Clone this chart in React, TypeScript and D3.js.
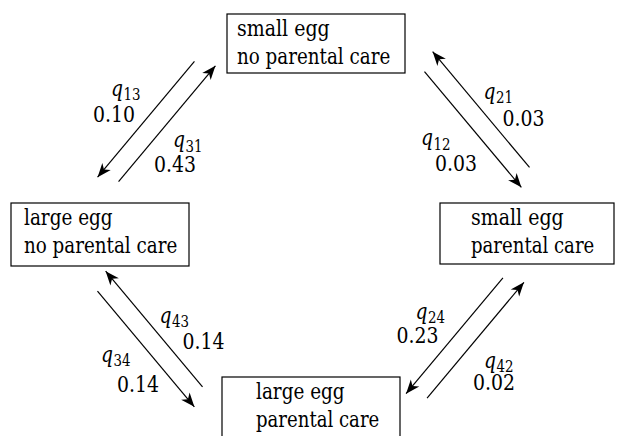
import * as d3 from "d3";
import { useEffect, useRef } from "react";

// states (1..4) and the transition rates between them
const stateNames = [
  ["small egg", "no parental care"],
  ["small egg", "parental care"],
  ["large egg", "no parental care"],
  ["large egg", "parental care"],
];
const fromState = [1, 3, 1, 2, 3, 4, 2, 4];
const toState = [3, 1, 2, 1, 4, 3, 4, 2];
const rates = [0.1, 0.43, 0.03, 0.03, 0.14, 0.14, 0.23, 0.02];

// layout of the boxes (x, y, width, height, text inset)
const boxLayout = [
  { x: 227, y: 14, w: 178, h: 59, tx: 10 },
  { x: 440, y: 203, w: 174, h: 61, tx: 31 },
  { x: 11, y: 203, w: 178, h: 63, tx: 13 },
  { x: 222, y: 377, w: 178, h: 70, tx: 34 },
];

// centre of every pair of arrows, keyed by the lower state first
const pairCentre: Record<string, [number, number]> = {
  "1-3": [156.5, 121.5],
  "1-2": [477, 119.5],
  "3-4": [150, 339],
  "2-4": [465, 338],
};

// label offsets from the arrow midpoint: [qx, qy, valueX, valueY]
const labelOffset = [
  [-35, -23.5, -53, 2.5],
  [6, 23.5, -13, 48.5],
  [-52, 16, -38, 42],
  [2.5, -11, 21.5, 16],
  [-45, 13, -29, 43],
  [5.5, -6.5, 28.5, 19.5],
  [-39, -17, -58, 7],
  [8.5, 27.5, -2.5, 49.5],
];

// Times advance widths (per 1000 em), used to squeeze the serif font to the original text widths
const timesWidths: Record<string, number> = {
  " ": 250, ".": 250, a: 444, c: 444, e: 444, g: 500, l: 278, m: 778,
  n: 500, o: 500, p: 500, r: 333, s: 389, t: 278, q: 500,
};
const timesWidth = (s: string, size: number) =>
  d3.sum(s.split(""), ch => timesWidths[ch] ?? 500) * size / 1000;

export default function App() {
  const ref = useRef<SVGSVGElement>(null);

  useEffect(() => {
    const width = 617;
    const height = 436;
    const svg = d3.select(ref.current).attr("width", width).attr("height", height);
    svg.selectAll("*").remove();

    const font = '"DejaVu Serif Condensed", "DejaVu Serif", serif';
    const size = 22;
    const subSize = 16;
    const fmt = d3.format(".2f");

    svg.append("rect").attr("width", width).attr("height", height).attr("fill", "#fff");

    // arrowhead
    svg.append("defs")
      .append("marker")
      .attr("id", "head")
      .attr("markerUnits", "userSpaceOnUse")
      .attr("viewBox", "-15 -7 17 14")
      .attr("markerWidth", 17)
      .attr("markerHeight", 14)
      .attr("refX", 0)
      .attr("refY", 0)
      .attr("orient", "auto")
      .append("path")
      .attr("d", "M0,0 L-14,-5.5 L-10,0 L-14,5.5 Z")
      .attr("fill", "#000");

    // boxes
    const box = svg.selectAll(".state")
      .data(stateNames)
      .join("g")
      .classed("state", true)
      .attr("transform", (d, i) => `translate(${boxLayout[i].x},${boxLayout[i].y})`);

    box.append("rect")
      .attr("width", (d, i) => boxLayout[i].w)
      .attr("height", (d, i) => boxLayout[i].h)
      .attr("fill", "#fff")
      .attr("stroke", "#000")
      .attr("stroke-width", 1.2);

    box.each(function (lines, i) {
      d3.select(this).selectAll("text")
        .data(lines)
        .join("text")
        .attr("x", boxLayout[i].tx)
        .attr("y", (d, k) => 21.5 + k * 28.5)
        .attr("textLength", d => timesWidth(d, 24))
        .attr("lengthAdjust", "spacingAndGlyphs")
        .style("font-family", font)
        .style("font-size", `${size}px`)
        .attr("fill", "#000")
        .text(d => d);
    });

    // arrows
    const arrowLen = 151;
    const half = [97, 116];
    const arrows = fromState.map((a, i) => {
      const b = toState[i];
      const key = a < b ? `${a}-${b}` : `${b}-${a}`;
      const c = pairCentre[key];
      const lo = Math.min(a, b);
      const hi = Math.max(a, b);
      // direction from the lower-numbered state to the higher one
      const sx = boxLayout[hi - 1].x + boxLayout[hi - 1].w / 2 > boxLayout[lo - 1].x + boxLayout[lo - 1].w / 2 ? 1 : -1;
      const sy = boxLayout[hi - 1].y > boxLayout[lo - 1].y ? 1 : -1;
      let dx = sx * half[0];
      let dy = sy * half[1];
      if (a !== lo) { dx = -dx; dy = -dy; }
      const n = Math.hypot(dx, dy);
      const ux = dx / n;
      const uy = dy / n;
      // right-hand traffic: shift to the right of travel and slightly forward
      const mx = c[0] + 9.5 * -uy + 5 * ux;
      const my = c[1] + 9.5 * ux + 5 * uy;
      return {
        x1: mx - ux * arrowLen / 2,
        y1: my - uy * arrowLen / 2,
        x2: mx + ux * arrowLen / 2,
        y2: my + uy * arrowLen / 2,
        mx, my, a, b, rate: rates[i], off: labelOffset[i],
      };
    });

    svg.selectAll(".arrow")
      .data(arrows)
      .join("line")
      .classed("arrow", true)
      .attr("x1", d => d.x1)
      .attr("y1", d => d.y1)
      .attr("x2", d => d.x2)
      .attr("y2", d => d.y2)
      .attr("stroke", "#000")
      .attr("stroke-width", 1.2)
      .attr("marker-end", "url(#head)");

    // q labels: italic q with the subscript drawn as a second text
    const q = svg.selectAll(".qlabel")
      .data(arrows)
      .join("g")
      .classed("qlabel", true)
      .attr("transform", d => `translate(${d.mx + d.off[0]},${d.my + d.off[1]})`);
    q.append("text")
      .style("font-family", font)
      .style("font-size", `${size}px`)
      .style("font-style", "italic")
      .attr("textLength", timesWidth("q", 24))
      .attr("lengthAdjust", "spacingAndGlyphs")
      .attr("fill", "#000")
      .text("q");
    q.append("text")
      .attr("x", timesWidth("q", 24) + 0.5)
      .attr("y", 4.5)
      .style("font-family", font)
      .style("font-size", `${subSize}px`)
      .attr("textLength", timesWidth("00", 17))
      .attr("lengthAdjust", "spacingAndGlyphs")
      .attr("fill", "#000")
      .text(d => `${d.a}${d.b}`);

    // rate values
    svg.selectAll(".rate")
      .data(arrows)
      .join("text")
      .classed("rate", true)
      .attr("x", d => d.mx + d.off[2])
      .attr("y", d => d.my + d.off[3])
      .attr("textLength", d => timesWidth(fmt(d.rate), 24))
      .attr("lengthAdjust", "spacingAndGlyphs")
      .style("font-family", font)
      .style("font-size", `${size}px`)
      .attr("fill", "#000")
      .text(d => fmt(d.rate));
  }, []);

  return (
    <div style={{ position: "absolute", left: 0, top: 0 }}>
      <svg ref={ref} style={{ display: "block" }}></svg>
    </div>
  );
}
